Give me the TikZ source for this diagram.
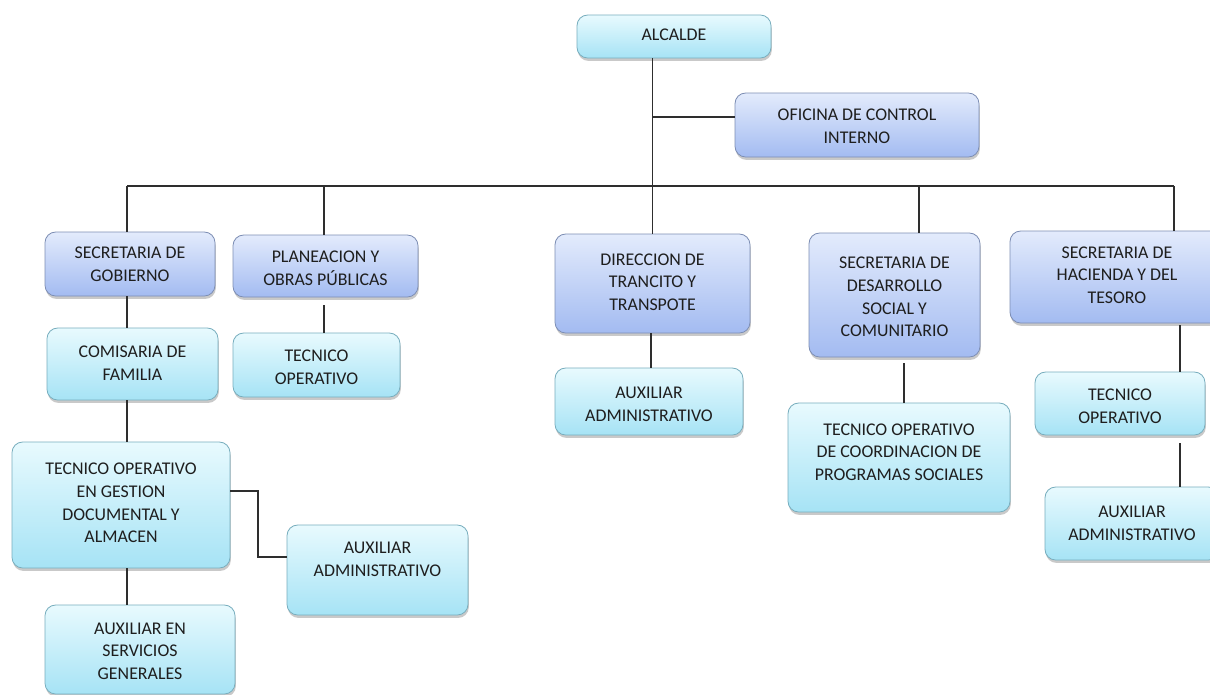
\documentclass[tikz,border=0pt]{standalone}
\usepackage{fontspec}
\setmainfont{Carlito}
\usetikzlibrary{shadows,calc}
\definecolor{ctop}{HTML}{E8FAFE}
\definecolor{cbot}{HTML}{A6E3F5}
\definecolor{cbrd}{HTML}{78AEBE}
\definecolor{btop}{HTML}{E3EBFC}
\definecolor{bbot}{HTML}{A3BBF1}
\definecolor{bbrd}{HTML}{7D8EB4}
\definecolor{lncol}{HTML}{2E2E2E}
\definecolor{txcol}{HTML}{1E1E1E}
\tikzset{
  boxbase/.style={rectangle, rounded corners=8pt, line width=0.6pt, inner sep=0pt,
    drop shadow={shadow xshift=0.6pt, shadow yshift=-2.2pt, opacity=0.35, fill=black!60}},
  cbox/.style={boxbase, draw=cbrd, top color=ctop, bottom color=cbot},
  bbox/.style={boxbase, draw=bbrd, top color=btop, bottom color=bbot},
  txt/.style={align=center, text=txcol, inner sep=0pt, font=\fontsize{13.4}{17}\selectfont},
  conn/.style={draw=lncol, line width=1pt}
}
\newcommand\orgbox[8]{%
  \node[#1, minimum width={(#5-#3)*0.75pt}, minimum height={(#6-#4)*0.75pt}] (#2) at ({(#3+#5)/2},{(#4+#6)/2}) {};
  \node[txt] (#2t) at ({(#3+#5)/2},#7) {#8};}
\begin{document}
\begin{tikzpicture}[x=0.75pt,y=-0.75pt]
\useasboundingbox (0,0) rectangle (1210,694);
\fill[white] (0,0) rectangle (1210,694);
\coordinate (j1) at (652,117);
\coordinate (b1) at (127,186);
\coordinate (b2) at (324,186);
\coordinate (b3) at (652,186);
\coordinate (b4) at (919,186);
\coordinate (b5) at (1174,186);
% boxes
\orgbox{cbox}{alc}{577}{15}{771}{58}{35}{ALCALDE}
\orgbox{bbox}{ofi}{735}{93}{979}{157}{126}{OFICINA DE CONTROL\\INTERNO}
\orgbox{bbox}{gob}{45}{232}{215}{296}{264}{SECRETARIA DE\\GOBIERNO}
\orgbox{bbox}{pla}{233}{235}{418}{297}{268}{PLANEACION Y\\OBRAS PÚBLICAS}
\orgbox{bbox}{dir}{555}{234}{750}{333}{282}{DIRECCION DE\\TRANCITO Y\\TRANSPOTE}
\orgbox{bbox}{des}{809}{233}{980}{357}{297}{SECRETARIA DE\\DESARROLLO\\SOCIAL Y\\COMUNITARIO}
\orgbox{bbox}{hac}{1010}{231}{1224}{323}{275}{SECRETARIA DE\\HACIENDA Y DEL\\TESORO}
\orgbox{cbox}{com}{47}{328}{218}{400}{363}{COMISARIA DE\\FAMILIA}
\orgbox{cbox}{tecp}{233}{333}{400}{397}{367}{TECNICO\\OPERATIVO}
\orgbox{cbox}{gest}{12}{442}{230}{568}{503}{TECNICO OPERATIVO\\EN GESTION\\DOCUMENTAL Y\\ALMACEN}
\orgbox{cbox}{auxl}{287}{525}{468}{615}{559}{AUXILIAR\\ADMINISTRATIVO}
\orgbox{cbox}{serv}{45}{605}{235}{694}{651}{AUXILIAR EN\\SERVICIOS\\GENERALES}
\orgbox{cbox}{auxm}{555}{368}{743}{435}{404}{AUXILIAR\\ADMINISTRATIVO}
\orgbox{cbox}{coord}{788}{403}{1010}{512}{452}{TECNICO OPERATIVO\\DE COORDINACION DE\\PROGRAMAS SOCIALES}
\orgbox{cbox}{tecr}{1035}{372}{1205}{435}{406}{TECNICO\\OPERATIVO}
\orgbox{cbox}{auxr}{1045}{487}{1219}{560}{523}{AUXILIAR\\ADMINISTRATIVO}
% connectors
\draw[conn] (alc.south -| dir.north) -- (dir.north);
\draw[conn] (j1) -- (j1 -| ofi.west);
\draw[conn] (b1) -- (b5);
\draw[conn] (b1) -- (b1 |- gob.north);
\draw[conn] (b2) -- (b2 |- pla.north);
\draw[conn] (b4) -- (b4 |- des.north);
\draw[conn] (b5) -- (b5 |- hac.north);
\draw[conn] (127,0 |- gob.south) -- (127,0 |- com.north);
\draw[conn] ($(324,0 |- pla.south)+(0,8)$) -- (324,0 |- tecp.north);
\draw[conn] (127,0 |- com.south) -- (127,0 |- gest.north);
\draw[conn] (127,0 |- gest.south) -- (127,0 |- serv.north);
\draw[conn] (gest.east |- 0,491) -- (258,491) -- (258,557) -- (auxl.west |- 0,557);
\draw[conn] (651,0 |- dir.south) -- (651,0 |- auxm.north);
\draw[conn] ($(904,0 |- des.south)+(0,6)$) -- (904,0 |- coord.north);
\draw[conn] ($(1180,0 |- hac.south)+(0,2)$) -- (1180,0 |- tecr.north);
\draw[conn] ($(1180,0 |- tecr.south)+(0,8)$) -- (1180,0 |- auxr.north);
\end{tikzpicture}
\end{document}
